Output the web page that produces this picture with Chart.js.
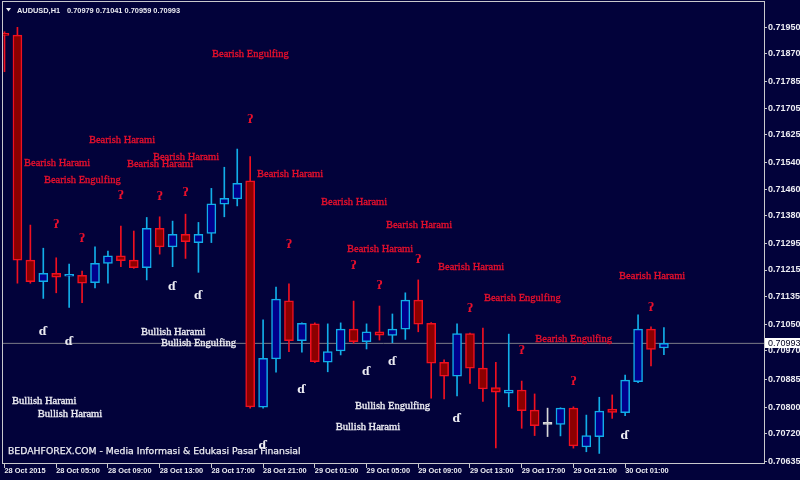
<!DOCTYPE html>
<html><head><meta charset="utf-8">
<script src="https://cdn.jsdelivr.net/npm/chart.js@4.4.1/dist/chart.umd.min.js"></script>
<style>html,body{margin:0;padding:0;background:#02023a;}canvas{display:block;}</style>
</head><body>
<canvas id="c" width="800" height="480"></canvas>
<script>
// ---------- DATA ----------
const symbolName = 'AUDUSD';
const periodName = 'H1';
const watermark = 'BEDAHFOREX.COM - Media Informasi & Edukasi Pasar Finansial';
const timeLabels = ['28 Oct 2015','28 Oct 05:00','28 Oct 09:00','28 Oct 13:00','28 Oct 17:00','28 Oct 21:00','29 Oct 01:00','29 Oct 05:00','29 Oct 09:00','29 Oct 13:00','29 Oct 17:00','29 Oct 21:00','30 Oct 01:00'];
const barsPerLabel = 4;
const priceTicks = ['0.71950','0.71870','0.71785','0.71705','0.71625','0.71540','0.71460','0.71380','0.71295','0.71215','0.71135','0.71050','0.70970','0.70885','0.70800','0.70720','0.70635'];

const opens  = [0.71927,0.71926,0.71245,0.71180,0.71205,0.71196,0.71199,0.71177,0.71235,0.71258,0.71245,0.71222,0.71341,0.71285,0.71323,0.71298,0.71326,0.71414,0.71430,0.71485,0.70800,0.70946,0.71122,0.71001,0.71052,0.70936,0.70970,0.71036,0.70998,0.71028,0.71017,0.71036,0.71124,0.71054,0.70936,0.70894,0.71023,0.70918,0.70859,0.70842,0.70852,0.70791,0.70748,0.70748,0.70797,0.70680,0.70711,0.70794,0.70783,0.70877,0.71036,0.70979];
const highs  = [0.71936,0.71949,0.71351,0.71281,0.71252,0.71233,0.71212,0.71285,0.71272,0.71348,0.71333,0.71374,0.71376,0.71363,0.71384,0.71359,0.71462,0.71526,0.71581,0.71558,0.71064,0.71163,0.71173,0.71055,0.71055,0.71052,0.71055,0.71121,0.71052,0.71106,0.71082,0.71146,0.71185,0.71056,0.70943,0.71052,0.71024,0.71039,0.70936,0.71021,0.70879,0.70840,0.70797,0.70798,0.70801,0.70776,0.70830,0.70837,0.70897,0.71079,0.71043,0.71041];
const lows   = [0.71815,0.71175,0.71175,0.71129,0.71146,0.71102,0.71116,0.71161,0.71175,0.71225,0.71220,0.71185,0.71263,0.71225,0.71250,0.71208,0.71298,0.71376,0.71409,0.70797,0.70797,0.70906,0.70968,0.70966,0.70935,0.70907,0.70958,0.70993,0.70976,0.71003,0.70995,0.71005,0.71028,0.70827,0.70825,0.70834,0.70872,0.70817,0.70677,0.70801,0.70736,0.70714,0.70711,0.70713,0.70676,0.70665,0.70660,0.70766,0.70774,0.70874,0.70925,0.70959];
const closes = [0.71925,0.71245,0.71180,0.71205,0.71193,0.71197,0.71175,0.71235,0.71258,0.71243,0.71222,0.71341,0.71285,0.71323,0.71301,0.71323,0.71415,0.71432,0.71477,0.70801,0.70948,0.71127,0.71001,0.71054,0.70938,0.70968,0.71036,0.70998,0.71028,0.71018,0.71036,0.71124,0.71051,0.70933,0.70894,0.71023,0.70918,0.70855,0.70845,0.70852,0.70789,0.70744,0.70748,0.70797,0.70683,0.70714,0.70788,0.70784,0.70882,0.71036,0.70975,0.70993];

const bearishPatterns = [
  {text:'Bearish Engulfing', bar:16.05, price:0.71868},
  {text:'Bearish Harami', bar:6.53, price:0.71608},
  {text:'Bearish Harami', bar:1.51, price:0.71537},
  {text:'Bearish Engulfing', bar:3.05, price:0.71486},
  {text:'Bearish Harami', bar:9.47, price:0.71536},
  {text:'Bearish Harami', bar:11.48, price:0.71555},
  {text:'Bearish Harami', bar:19.53, price:0.71504},
  {text:'Bearish Harami', bar:24.48, price:0.71421},
  {text:'Bearish Harami', bar:29.5, price:0.71349},
  {text:'Bearish Harami', bar:26.49, price:0.71278},
  {text:'Bearish Harami', bar:33.53, price:0.71222},
  {text:'Bearish Engulfing', bar:37.08, price:0.71131},
  {text:'Bearish Engulfing', bar:41.05, price:0.71005},
  {text:'Bearish Harami', bar:47.53, price:0.71196}
];
const bullishPatterns = [
  {text:'Bullish Harami', bar:10.56, price:0.71026},
  {text:'Bullish Engulfing', bar:12.1, price:0.70993},
  {text:'Bullish Harami', bar:0.58, price:0.70817},
  {text:'Bullish Harami', bar:2.57, price:0.70779},
  {text:'Bullish Engulfing', bar:27.11, price:0.70804},
  {text:'Bullish Harami', bar:25.61, price:0.70740}
];
const bearishMarks = [
  {bar:4,price:0.71351},{bar:6,price:0.71309},{bar:9,price:0.71440},{bar:12,price:0.71435},
  {bar:14,price:0.71449},{bar:19,price:0.71669},{bar:22,price:0.71291},{bar:27,price:0.71228},
  {bar:29,price:0.71167},{bar:32,price:0.71245},{bar:36,price:0.71097},{bar:40,price:0.70970},
  {bar:44,price:0.70877},{bar:50,price:0.71101}
];
const bullishMarks = [
  {bar:3,price:0.71028},{bar:5,price:0.70998},{bar:13,price:0.71164},{bar:15,price:0.71137},
  {bar:23,price:0.70850},{bar:20,price:0.70683},{bar:28,price:0.70905},{bar:30,price:0.70936},
  {bar:35,price:0.70764},{bar:48,price:0.70713}
];

// ---------- STYLE ----------
const BG = '#02023a';
const FG = '#ececf2';
const FRAME = '#c8c8cc';
const BULL_FILL = '#00008c', BULL_LINE = '#12aee8';
const BEAR_FILL = '#8c0000', BEAR_LINE = '#f01020';
const DOJI = '#d8d8d8';
const RED_TEXT = '#e8102c';
const X_MIN = -0.116, X_MAX = 58.74;
const Y_MIN = 0.70631, Y_MAX = 0.72026;

const last = closes.length - 1;
const bidPrice = closes[last];
const kind = i => closes[i] > opens[i] ? 'bull' : (closes[i] < opens[i] ? 'bear' : 'doji');
const fillCol = i => ({bull:BULL_FILL, bear:BEAR_FILL, doji:DOJI})[kind(i)];
const lineCol = i => ({bull:BULL_LINE, bear:BEAR_LINE, doji:DOJI})[kind(i)];

const idx = opens.map((_, i) => i);

function boldText(c, t, x, y, col, w) {
  c.fillStyle = col; c.strokeStyle = col; c.lineWidth = w;
  c.fillText(t, x, y); c.strokeText(t, x, y);
}

const overlay = {
  id: 'overlay',
  beforeDraw(chart) {
    const c = chart.ctx;
    c.save(); c.fillStyle = BG; c.fillRect(0, 0, chart.width, chart.height); c.restore();
  },
  afterDatasetsDraw(chart) {
    const c = chart.ctx, x = chart.scales.x, y = chart.scales.y;
    c.save();
    c.textBaseline = 'middle';
    c.textAlign = 'left';
    c.font = '10.5px "Liberation Serif"';
    bearishPatterns.forEach(p => boldText(c, p.text, x.getPixelForValue(p.bar), y.getPixelForValue(p.price), RED_TEXT, 0.35));
    bullishPatterns.forEach(p => boldText(c, p.text, x.getPixelForValue(p.bar), y.getPixelForValue(p.price), FG, 0.35));
    c.textAlign = 'center';
    c.font = 'bold 11px "DejaVu Serif"';
    c.fillStyle = RED_TEXT;
    bearishMarks.forEach(m => c.fillText('ʔ', x.getPixelForValue(m.bar), y.getPixelForValue(m.price)));
    c.fillStyle = FG;
    bullishMarks.forEach(m => c.fillText('ɗ', x.getPixelForValue(m.bar) - 0.5, y.getPixelForValue(m.price)));
    c.restore();
  },
  afterDraw(chart) {
    const c = chart.ctx, a = chart.chartArea, y = chart.scales.y;
    c.save();
    // frame
    c.strokeStyle = FRAME; c.lineWidth = 1;
    c.strokeRect(a.left - 0.5, a.top - 0.5, a.right - a.left + 1, a.bottom - a.top + 1);
    // header
    c.fillStyle = FG;
    c.beginPath(); c.moveTo(6, 8); c.lineTo(11, 8); c.lineTo(8.5, 11.5); c.closePath(); c.fill();
    c.font = 'bold 7.4px "Liberation Sans"';
    c.textBaseline = 'middle'; c.textAlign = 'left';
    c.fillText(symbolName + ',' + periodName, 17, 10.5);
    c.fillText([opens[last], highs[last], lows[last], closes[last]].map(v => v.toFixed(5)).join(' '), 67, 10.5);
    // watermark
    let fs = 10;
    c.font = fs + 'px "DejaVu Sans"';
    fs = fs * 293 / c.measureText(watermark).width;
    c.font = fs.toFixed(2) + 'px "DejaVu Sans"';
    boldText(c, watermark, 8, 452, FG, 0.25);
    // bid label
    const py = y.getPixelForValue(bidPrice);
    c.fillStyle = '#ffffff';
    c.fillRect(a.right + 1, Math.round(py) - 5, 36, 10);
    c.fillStyle = '#000020';
    c.font = '9px "Liberation Sans"';
    c.fillText(bidPrice.toFixed(5), a.right + 4, Math.round(py) + 0.5);
    c.restore();
  }
};

new Chart(document.getElementById('c'), {
  type: 'bar',
  data: {
    datasets: [
      {
        type: 'line',
        data: [{x: X_MIN, y: bidPrice}, {x: X_MAX, y: bidPrice}],
        borderColor: '#7c7c88', borderWidth: 1, pointRadius: 0, order: 3
      },
      {
        data: idx.map(i => ({x: i, y: [lows[i], highs[i]]})),
        backgroundColor: idx.map(lineCol),
        borderWidth: 0, grouped: false, maxBarThickness: 1, barThickness: 1, order: 2
      },
      {
        data: idx.map(i => ({x: i, y: [opens[i], closes[i]]})),
        backgroundColor: idx.map(fillCol),
        borderColor: idx.map(lineCol),
        borderWidth: 1.5, borderSkipped: false, minBarLength: 2,
        grouped: false, maxBarThickness: 9, barThickness: 9, order: 1
      }
    ]
  },
  options: {
    responsive: false, animation: false, devicePixelRatio: 1,
    layout: {padding: {left: 3, top: 2, right: 0, bottom: 0}},
    plugins: {legend: {display: false}, tooltip: {enabled: false}},
    scales: {
      x: {
        type: 'linear', min: X_MIN, max: X_MAX, offset: false, bounds: 'data',
        grid: {display: true, drawOnChartArea: false, offset: false, tickLength: 5, color: FRAME},
        border: {display: false},
        afterBuildTicks: s => { s.ticks = timeLabels.map((_, k) => ({value: k * barsPerLabel})); },
        ticks: {
          autoSkip: false, maxRotation: 0, align: 'start', padding: -1,
          color: FG, font: {family: 'Liberation Sans', size: 7.4, weight: 'bold'},
          callback: (v, k) => timeLabels[k]
        },
        afterFit: s => { s.height = 17; s.paddingLeft = 0; s.paddingRight = 0; }
      },
      y: {
        type: 'linear', position: 'right', min: Y_MIN, max: Y_MAX, bounds: 'data', beginAtZero: false,
        grid: {display: true, drawOnChartArea: false, tickLength: 3, color: FRAME},
        border: {display: false},
        afterBuildTicks: s => { s.ticks = priceTicks.map(t => ({value: parseFloat(t)})); },
        ticks: {
          autoSkip: false, padding: 1, color: FG,
          font: {family: 'Liberation Sans', size: 9, weight: 'bold'},
          callback: (v, k) => priceTicks[k]
        },
        afterFit: s => { s.width = 36; s.paddingTop = 0; s.paddingBottom = 0; }
      }
    }
  },
  plugins: [overlay]
});
</script>
</body></html>
